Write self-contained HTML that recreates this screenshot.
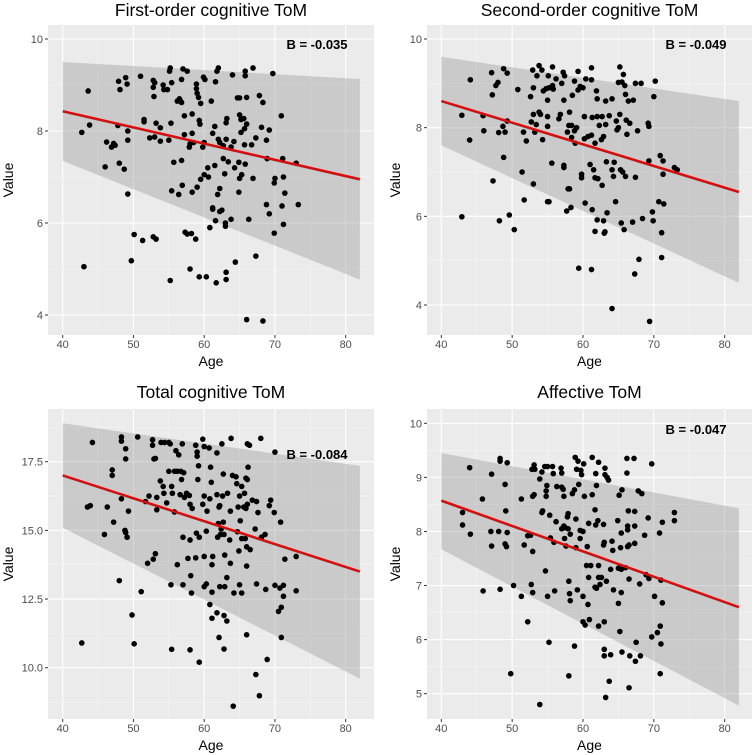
<!DOCTYPE html>
<html><head><meta charset="utf-8"><style>
html,body{margin:0;padding:0;background:#fff;}
svg{display:block;font-family:"Liberation Sans",Arial,sans-serif;}
</style></head><body>
<svg id="chart" width="755" height="755" viewBox="0 0 755 755" xmlns="http://www.w3.org/2000/svg"></svg>
<script>
// ---- data ----
const titles = ["First-order cognitive ToM","Second-order cognitive ToM","Total cognitive ToM","Affective ToM"];
const coefLabels = ["B = -0.035","B = -0.049","B = -0.084","B = -0.047"];
const xTicks = [40,50,60,70,80];
const yTicks1 = [4,6,8,10];
const yTicks2 = [4,6,8,10];
const yTicks3 = [10,12.5,15,17.5];
const yTickLabels3 = ["10.0","12.5","15.0","17.5"];
const yTicks4 = [5,6,7,8,9,10];
const fitAt40 = [8.43,8.6,17.0,8.57];
const fitAt82 = [6.95,6.55,13.5,6.6];
const ribbonUpper40 = [9.5,9.6,18.9,9.45];
const ribbonUpper82 = [9.13,8.6,17.35,8.43];
const ribbonLower40 = [7.35,7.6,15.1,7.67];
const ribbonLower82 = [4.77,4.5,9.6,4.78];

const points1 = [[43,5.05],[42.7,7.97],[43.6,8.87],[43.8,8.13],[46,7.22],[46.2,7.76],[46.9,7.65],[47.2,7.73],[47.4,7.69],[47.8,8.12],[48,7.3],[47.9,9.08],[48.1,8.9],[48.9,9.16],[49.1,9.02],[48.7,7.17],[49.2,8.0],[49.2,7.8],[49.2,6.63],[49.7,5.18],[50.1,5.75],[51,9.19],[51.3,5.62],[51.5,8.2],[51.5,8.25],[52.3,7.85],[52.8,9.1],[52.8,8.95],[52.8,5.7],[53,9.05],[52.9,8.75],[53,7.87],[53.2,8.17],[53.2,5.65],[53.8,8.07],[53.8,7.78],[54.2,9.0],[54.3,8.9],[54.8,8.9],[55,7.8],[55.1,9.3],[55.2,9.37],[55.3,8.17],[55.4,9.05],[55.4,6.7],[55.2,4.75],[55.7,7.32],[56.2,8.65],[56.4,6.62],[56.5,8.7],[56.6,8.66],[56.8,8.62],[56.8,9.12],[56.8,7.36],[56.9,6.82],[57,9.35],[57.2,8.33],[57.2,7.92],[57.3,5.8],[57.6,9.3],[57.6,5.76],[57.9,7.65],[58,7.72],[58,5.0],[58.2,5.77],[58.3,8.37],[58.3,7.95],[58.3,6.67],[58.5,7.75],[58.8,5.65],[58.9,9.02],[58.9,8.92],[59,8.82],[59,6.78],[59.2,8.73],[59.3,8.23],[59.3,4.83],[59.4,8.15],[59.5,8.6],[59.5,6.95],[59.8,7.65],[59.9,9.17],[60,7.75],[60.1,9.12],[60,7.05],[60.3,4.83],[60.5,7.2],[60.6,7.0],[60.8,5.9],[61,8.65],[61.2,7.95],[61.2,6.3],[61.2,6.33],[61.5,8.1],[61.5,7.25],[61.6,9.07],[61.8,9.3],[61.6,6.05],[61.7,4.7],[61.9,6.62],[62,9.37],[62,7.82],[62.2,7.75],[62.2,6.25],[62.2,6.75],[62.5,6.28],[62.7,7.68],[62.7,7.4],[62.9,7.07],[63,6.0],[63,5.93],[63.1,8.18],[63.2,8.27],[63.1,7.82],[63.1,4.93],[63.1,4.77],[63.4,7.33],[63.8,7.65],[63.8,6.08],[64,9.22],[64.2,7.77],[64.3,7.2],[64.4,5.15],[64.7,8.72],[64.9,7.32],[64.9,6.67],[65,8.35],[65,8.72],[65,6.97],[65.2,8.25],[65.2,7.97],[65.3,7.05],[65.6,8.27],[65.7,8.05],[65.8,9.3],[65.8,9.2],[65.7,7.7],[65.8,7.28],[66,8.15],[66,8.73],[66,3.9],[66.3,6.08],[66.9,9.37],[66.7,7.7],[66.9,6.97],[67.3,7.85],[67.3,5.28],[67.8,8.77],[68.1,8.08],[68.3,8.62],[68.3,3.87],[68.8,6.4],[68.9,7.4],[68.8,7.8],[69.2,6.2],[69.2,8.02],[69.7,9.25],[69.9,5.78],[69.9,6.87],[70,6.97],[70.9,8.33],[71.1,7.4],[71,6.37],[71.2,7.0],[71.2,5.97],[71.4,6.65],[73,7.3],[73.3,6.4]];
const points2 = [[42.9,8.28],[42.9,5.99],[44.1,9.08],[44,7.72],[45.9,8.27],[46,7.93],[47.1,9.24],[47.2,8.74],[47.3,6.8],[47.7,8.95],[48,9.02],[48.1,7.89],[48.2,5.9],[48.7,8.03],[48.8,7.33],[48.8,9.33],[49,7.9],[49.3,9.23],[49.3,8.15],[49.6,6.03],[50.3,5.7],[50.8,8.86],[51.4,7.0],[51.6,7.9],[51.7,6.37],[52,7.7],[52.6,8.7],[52.7,8.13],[52.9,9.3],[53,8.9],[53,8.3],[53,6.73],[53.2,7.9],[53.4,8.07],[53.5,9.17],[53.8,8.35],[53.8,9.4],[54,8.3],[54.2,9.3],[54.3,7.73],[54.4,8.83],[54.8,8.88],[55,8.03],[55,8.25],[55,8.62],[55,6.33],[55.1,9.17],[55.2,8.9],[55.2,6.33],[55.6,7.2],[55.7,9.37],[55.7,8.95],[55.8,8.87],[56.2,9.1],[56.6,8.2],[56.8,8.3],[57,9.0],[57.2,9.25],[57.3,7.15],[57.3,7.1],[57.3,8.62],[57.4,9.17],[57.7,6.12],[57.8,7.9],[57.9,6.62],[58,8.05],[58.1,8.35],[58.1,6.62],[58.3,6.2],[58.4,7.78],[58.4,8.05],[58.5,8.73],[58.8,7.93],[58.8,9.05],[58.9,7.65],[59.1,8.0],[59.3,9.27],[59.3,8.85],[59.4,4.83],[59.6,8.93],[59.8,6.87],[59.8,6.95],[60,8.9],[60.2,7.75],[60.2,8.25],[60.3,6.3],[60.4,9.1],[60.7,7.8],[61,7.17],[61.2,7.83],[61.2,9.08],[61.2,9.35],[61.2,4.8],[61.3,8.23],[61.3,6.15],[61.5,7.05],[61.7,7.65],[61.7,6.87],[61.7,5.66],[61.9,8.83],[62,8.65],[62,8.25],[62,5.92],[62.1,6.85],[62.3,8.05],[62.6,7.73],[62.7,8.25],[62.7,6.7],[62.9,7.8],[62.9,5.9],[63,5.62],[63.1,5.65],[63.2,8.6],[63.2,8.07],[63.3,7.23],[63.4,6.08],[63.7,8.27],[64.1,8.65],[64.1,7.05],[64.1,3.92],[64.3,6.9],[64.4,7.22],[64.6,6.33],[64.7,8.15],[64.8,7.95],[65,8.0],[65,9.02],[65.2,8.3],[65.2,9.37],[65.3,7.05],[65.4,5.85],[65.5,9.03],[65.6,7.0],[65.7,9.2],[65.8,5.7],[65.9,8.95],[66,6.9],[66,8.75],[66.1,8.17],[66.2,7.85],[66.4,8.6],[66.6,8.1],[67,5.87],[67.1,8.62],[67.3,4.7],[67.4,9.0],[67.4,6.88],[67.7,7.93],[67.9,5.03],[68.2,9.0],[68.4,5.95],[69.2,8.1],[69.3,7.25],[69.3,8.03],[69.4,3.63],[69.8,6.1],[69.9,5.9],[70,8.7],[70.2,9.05],[70.7,6.33],[70.9,7.37],[71.1,5.63],[71.1,5.07],[71.3,7.25],[71.3,6.95],[71.4,6.28],[72.9,7.1],[73.3,7.05]];
const points3 = [[42.7,10.9],[43.5,15.85],[43.9,15.9],[44.2,18.2],[45.9,14.85],[46.3,15.85],[47,17.2],[47,17.0],[47.2,15.3],[48,13.17],[48.3,18.4],[48.3,18.25],[48.3,16.15],[48.8,15.0],[48.9,14.92],[48.9,17.97],[48.9,17.6],[49.1,14.75],[49.3,15.7],[49.8,11.92],[50.1,10.87],[50.6,18.4],[51.1,12.77],[51.7,16.05],[52,13.8],[52.2,16.25],[52.7,18.3],[52.7,18.1],[52.8,13.95],[52.9,17.6],[53.1,17.62],[53.1,14.15],[53.3,15.75],[53.3,16.2],[53.8,16.8],[53.9,18.2],[54.2,16.6],[54.3,16.35],[54.4,18.2],[54.7,16.0],[55,18.2],[55,17.15],[55.2,18.15],[55.4,16.6],[55.3,13.02],[55.4,10.67],[55.5,16.35],[55.8,17.15],[55.8,15.67],[56,17.9],[56.2,17.15],[56.2,13.75],[56.4,17.75],[56.6,16.3],[56.7,17.15],[56.8,16.85],[56.9,18.15],[57,14.75],[57,13.02],[57.1,17.1],[57.2,16.2],[57.5,16.35],[57.7,13.98],[57.9,16.27],[58,15.95],[58,14.65],[58,10.65],[58.1,13.35],[58.2,12.72],[58.3,15.8],[58.8,18.1],[58.9,14.9],[58.8,14.0],[59,17.85],[59,17.7],[59.1,16.85],[59.2,17.35],[59.3,14.75],[59.3,10.2],[59.8,15.95],[59.8,18.32],[60,18.05],[60,16.25],[60,14.05],[60,12.95],[60.3,14.97],[60.3,13.05],[60.4,15.7],[60.7,18.0],[60.8,16.15],[60.8,12.3],[60.9,17.3],[61,16.75],[61.1,12.75],[61.1,11.8],[61.2,14.05],[61.1,13.75],[61.8,12.0],[61.8,16.3],[61.8,17.82],[61.9,14.75],[62,15.25],[62.1,15.85],[62.1,11.1],[62.2,12.95],[62.2,15.9],[62.3,14.85],[62.4,15.05],[62.5,18.15],[62.6,16.25],[62.7,15.3],[62.7,17.05],[62.8,14.85],[62.8,11.9],[62.8,10.68],[62.9,14.1],[62.9,12.95],[63.2,11.7],[63.2,13.28],[63.3,16.35],[63.6,14.65],[63.7,15.7],[63.7,13.8],[63.8,18.35],[64,17.0],[64.2,12.72],[64.1,8.6],[64.5,16.95],[64.6,16.7],[64.7,14.95],[64.8,15.85],[64.9,14.25],[65,13.02],[65,16.25],[65.1,15.35],[65.3,12.72],[65.3,16.6],[65.3,14.7],[65.6,15.85],[65.7,16.35],[65.8,14.7],[65.9,16.9],[65.9,15.8],[66,14.4],[66,13.7],[66,11.2],[66.1,15.95],[66.1,18.15],[66.1,16.85],[66.2,17.3],[66.4,18.1],[66.5,14.3],[66.8,16.1],[67.2,15.05],[67.3,9.75],[67.4,13.05],[67.4,16.05],[67.6,15.65],[67.8,8.98],[68,18.35],[68.1,14.75],[68.6,14.85],[68.7,12.85],[68.9,10.3],[69.2,15.9],[69.4,16.1],[69.9,15.65],[70,13.0],[70,17.85],[70.5,12.05],[70.7,12.9],[70.8,15.3],[70.9,12.2],[70.9,11.1],[71.2,12.6],[71.2,13.0],[71.4,13.95],[73,12.8],[73,14.05]];
const points4 = [[43,8.35],[43,8.12],[44,9.18],[44.1,7.95],[45.8,8.6],[45.9,6.9],[47,8.0],[47.1,7.73],[47.1,9.06],[48.3,9.35],[48.3,9.3],[48.1,8.0],[48.3,6.93],[49,8.87],[49,7.77],[49.1,8.38],[49.3,7.98],[49.2,7.72],[49.3,9.27],[49.8,5.37],[50.2,7.0],[51.3,8.6],[51.3,6.8],[51.7,7.75],[52.2,7.92],[52.2,6.33],[52.6,7.93],[52.7,7.02],[52.8,9.15],[52.9,7.63],[52.9,6.87],[52.9,8.65],[53.1,9.23],[53.1,8.68],[53.2,9.15],[53.9,8.97],[53.9,4.8],[54.2,8.35],[54.2,9.1],[54.3,8.38],[54.6,9.2],[54.7,7.27],[54.8,8.75],[54.8,8.65],[54.9,8.85],[55,9.2],[55,6.8],[55.2,5.95],[55.3,8.3],[55.4,7.88],[55.7,9.2],[55.8,9.07],[55.9,7.8],[56,6.9],[56.2,8.18],[56.3,8.83],[56.9,9.17],[57,9.08],[57,8.82],[57,8.05],[57.2,8.78],[57.3,8.65],[57.3,8.1],[57.4,7.87],[57.5,8.07],[57.6,7.73],[57.8,8.27],[57.9,8.33],[57.9,8.05],[58,7.08],[58,5.33],[58.1,6.85],[58.2,6.72],[58.2,7.95],[58.5,8.7],[58.8,8.77],[58.8,5.88],[58.9,9.37],[59,7.7],[59,8.23],[59.1,9.15],[59.2,6.92],[59.3,9.3],[59.4,8.87],[59.6,8.02],[59.6,7.87],[59.7,9.13],[59.8,9.05],[60,8.0],[60,6.33],[60,6.8],[60.1,9.25],[60.2,8.65],[60.3,6.27],[60.5,7.37],[60.6,7.72],[60.7,6.65],[60.8,8.15],[60.8,7.15],[60.9,6.37],[61.1,7.37],[61.3,9.37],[61.3,8.68],[61.7,8.4],[61.7,6.97],[61.8,9.07],[61.8,8.12],[61.9,6.95],[61.9,8.85],[62.1,8.2],[62.2,9.28],[62.2,7.37],[62.2,7.15],[62.2,6.25],[62.4,7.02],[62.6,7.15],[62.9,8.13],[62.9,7.75],[63,7.8],[63,6.33],[63,5.82],[63,5.7],[63.1,9.17],[63.1,9.05],[63.2,4.93],[63.3,7.08],[63.4,9.0],[63.6,8.95],[63.7,5.23],[63.9,7.3],[63.9,5.72],[64.1,7.82],[64.2,7.65],[64.3,6.92],[64.9,8.2],[65,7.32],[65,6.67],[65.1,8.67],[65.2,6.15],[65.3,7.7],[65.4,7.3],[65.4,6.87],[65.4,7.97],[65.5,8.77],[65.5,5.77],[66,7.33],[66.2,9.35],[66.2,9.08],[66.3,7.72],[66.3,8.1],[66.3,8.03],[66.4,8.38],[66.5,7.12],[66.5,7.75],[66.5,5.11],[66.6,5.7],[67.2,9.35],[67.3,8.37],[67.3,8.1],[67.3,7.78],[67.4,5.6],[67.5,5.95],[67.8,8.75],[68,7.03],[68.1,5.7],[68.3,8.7],[68.7,7.93],[68.9,7.2],[69.2,8.25],[69.3,7.13],[69.7,9.25],[69.7,6.05],[70.1,6.8],[70.5,6.13],[70.8,7.97],[70.9,6.25],[70.9,5.37],[71,7.1],[71,5.92],[71.2,8.17],[71.2,6.68],[72.9,8.35],[72.9,8.2]];

// ---- layout ----
const NS = "http://www.w3.org/2000/svg";
const svg = document.getElementById("chart");
function mk(tag, attrs, parent){
  const e = document.createElementNS(NS, tag);
  for (const k in attrs) e.setAttribute(k, attrs[k]);
  (parent||svg).appendChild(e);
  return e;
}
const panels = [
  {L:48,R:374,T:25,B:335, x40:62.7,x80:345.7, ya:10,yaPx:39, yb:4,ybPx:315, ticks:yTicks1, tl:null, minor:[5,7,9], pts:points1, titleY:16, ageY:366, valX:8, coefX:317, coefY:49},
  {L:427,R:752,T:25,B:335, x40:441.3,x80:724.7, ya:10,yaPx:39, yb:4,ybPx:305, ticks:yTicks2, tl:null, minor:[5,7,9], pts:points2, titleY:16, ageY:366, valX:395, coefX:696, coefY:49},
  {L:48,R:374,T:409,B:719, x40:62.7,x80:345.7, ya:17.5,yaPx:461.7, yb:10,ybPx:667.7, ticks:yTicks3, tl:yTickLabels3, minor:[8.75,11.25,13.75,16.25,18.75], pts:points3, titleY:398, ageY:750, valX:8, coefX:317, coefY:459},
  {L:427,R:752,T:409,B:719, x40:441.3,x80:724.7, ya:10,yaPx:423.3, yb:5,ybPx:693.7, ticks:yTicks4, tl:null, minor:[4.5,5.5,6.5,7.5,8.5,9.5], pts:points4, titleY:398, ageY:750, valX:395, coefX:696, coefY:434}
];
const xMinor = [45,55,65,75];

panels.forEach((p, i) => {
  const g = mk("g", {});
  
  
  const sx = v => p.x40 + (v-40)*(p.x80-p.x40)/40;
  const sy = v => p.yaPx + (v-p.ya)*(p.ybPx-p.yaPx)/(p.yb-p.ya);
  const bg = mk("rect", {x:p.L, y:p.T, width:p.R-p.L, height:p.B-p.T, fill:"#ebebeb"}, g);
  
  
  xMinor.forEach(v => mk("line",{x1:sx(v),x2:sx(v),y1:p.T,y2:p.B,stroke:"#f6f6f6","stroke-width":0.6},g));
  p.minor.forEach(v => { const y=sy(v); if(y>p.T&&y<p.B) mk("line",{x1:p.L,x2:p.R,y1:y,y2:y,stroke:"#f6f6f6","stroke-width":0.6},g); });
  xTicks.forEach(v => mk("line",{x1:sx(v),x2:sx(v),y1:p.T,y2:p.B,stroke:"#fff","stroke-width":1.1},g));
  p.ticks.forEach(v => mk("line",{x1:p.L,x2:p.R,y1:sy(v),y2:sy(v),stroke:"#fff","stroke-width":1.1},g));
  const rib = mk("polygon",{points:[[sx(40),sy(ribbonUpper40[i])],[sx(82),sy(ribbonUpper82[i])],[sx(82),sy(ribbonLower82[i])],[sx(40),sy(ribbonLower40[i])]].map(a=>a.join(",")).join(" "), fill:"#999999", "fill-opacity":0.4},g);
  
  
  p.pts.forEach(pt => {
    const c = mk("circle",{cx:sx(pt[0]), cy:sy(pt[1]), r:2.8, fill:"#000"}, g);
    
    
  });
  const fl = mk("line",{x1:sx(40),y1:sy(fitAt40[i]),x2:sx(82),y2:sy(fitAt82[i]),stroke:"#d40f0f","stroke-width":2.6},g);
  
  
  xTicks.forEach(v => {
    mk("line",{x1:sx(v),x2:sx(v),y1:p.B,y2:p.B+3,stroke:"#333","stroke-width":1},g);
    const t = mk("text",{x:sx(v),y:p.B+13,"text-anchor":"middle","font-size":11,fill:"#4d4d4d"},g);
    t.textContent = v;
    
    
  });
  p.ticks.forEach((v,k) => {
    mk("line",{x1:p.L-3,x2:p.L,y1:sy(v),y2:sy(v),stroke:"#333","stroke-width":1},g);
    const t = mk("text",{x:p.L-5,y:sy(v)+4,"text-anchor":"end","font-size":11,fill:"#4d4d4d"},g);
    t.textContent = p.tl ? p.tl[k] : v;
    
    
  });
  const title = mk("text",{x:(p.L+p.R)/2,y:p.titleY,"text-anchor":"middle","font-size":17.5,fill:"#000"},g);
  title.textContent = titles[i];
  
  
  const xt = mk("text",{x:(p.L+p.R)/2,y:p.ageY,"text-anchor":"middle","font-size":14,fill:"#000"},g);
  xt.textContent = "Age";
  
  
  const cy = (p.T+p.B)/2;
  const yt = mk("text",{x:p.valX+5,y:cy,"text-anchor":"middle","font-size":14,fill:"#000",transform:`rotate(-90 ${p.valX+5} ${cy})`},g);
  yt.textContent = "Value";
  
  
  const ct = mk("text",{x:p.coefX,y:p.coefY,"text-anchor":"middle","font-size":13,"font-weight":"bold",fill:"#000"},g);
  ct.textContent = coefLabels[i];
  
  
});
</script>
</body></html>
